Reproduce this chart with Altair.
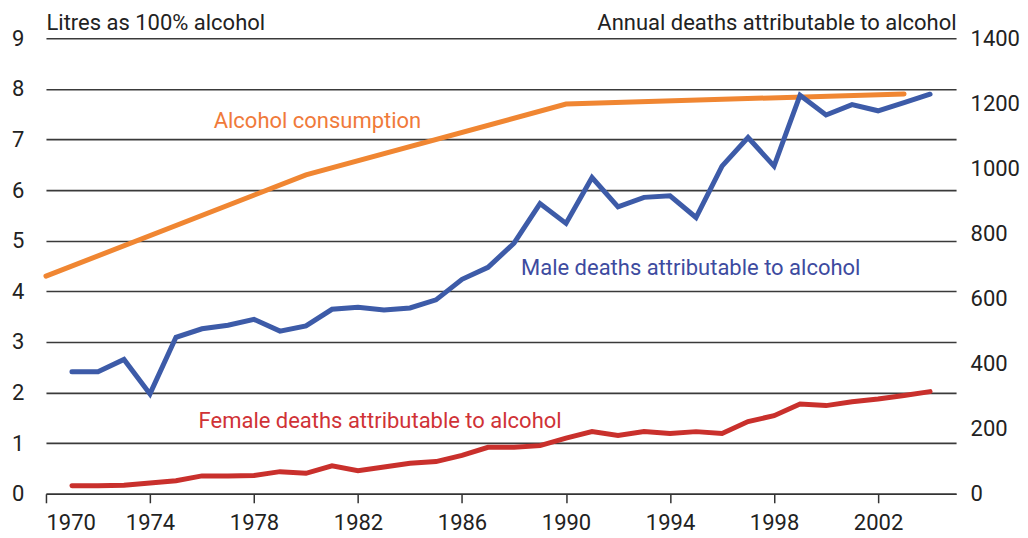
import altair as alt
import pandas as pd

# ---- data ----
years = list(range(1971, 2005))
male_deaths = [375, 375, 413, 307, 481, 507, 518, 536, 500, 516, 567, 573, 565, 571, 596,
               659, 696, 770, 892, 831, 972, 882, 911, 916, 849, 1007, 1095, 1007, 1225,
               1164, 1196, 1177, 1202, 1228]
female_deaths = [25, 25, 26, 33, 40, 55, 55, 56, 68, 63, 86, 71, 82, 94, 99, 118, 143, 143,
                 148, 171, 191, 179, 191, 185, 191, 185, 222, 240, 276, 271, 283, 291, 302, 314]

alc_years = [1970, 1980, 1990, 2003]
alc_litres = [4.3, 6.3, 7.7, 7.9]

x_ticks = [1970, 1974, 1978, 1982, 1986, 1990, 1994, 1998, 2002]
left_ticks = list(range(0, 10))
right_ticks = list(range(0, 1401, 200))

series_names = ["Male deaths attributable to alcohol", "Female deaths attributable to alcohol"]
series_colors = ["#3D5BA8", "#C9302C"]
alc_color = "#F08632"

# label anchors (year, value)
alc_label = pd.DataFrame({"year": [1976.45], "v": [7.22], "t": ["Alcohol consumption"]})
death_labels = pd.DataFrame({
    "year": [1988.27, 1975.87],
    "v": [672, 203],
    "t": series_names,
    "series": series_names,
})

FONT = "Roboto"
FS = 22

deaths = pd.DataFrame({
    "year": years * 2,
    "v": male_deaths + female_deaths,
    "series": [series_names[0]] * len(years) + [series_names[1]] * len(years),
})
alc = pd.DataFrame({"year": alc_years, "v": alc_litres})

x_axis = alt.Axis(values=x_ticks, format="d", tickSize=9, tickColor="#333", tickWidth=1.5,
                  domainColor="#333", domainWidth=1.5, labelPadding=10, grid=False,
                  title=None, labelFontSize=FS, labelColor="#222", labelFont=FONT)
x_scale = alt.Scale(domain=[1970, 2005], nice=False, zero=False)

left_scale = alt.Scale(domain=[0, 9], nice=False)
right_scale = alt.Scale(domain=[0, 1400], nice=False)

left_axis = alt.Axis(values=left_ticks, grid=True, gridColor="#3a3a3a", gridWidth=1.6,
                     ticks=False, domain=False, labelPadding=22, labelFontSize=FS,
                     labelColor="#222", labelFont=FONT,
                     title="Litres as 100% alcohol", titleAngle=0, titleAlign="left",
                     titleBaseline="bottom", titleX=0, titleY=-4, titleFontSize=FS,
                     titleFontWeight="normal", titleFont=FONT, titleColor="#222")
right_axis = alt.Axis(values=right_ticks, format="d", orient="right", grid=False, ticks=False,
                      domain=False, labelPadding=14, labelFontSize=FS, labelColor="#222",
                      labelFont=FONT,
                      title="Annual deaths attributable to alcohol", titleAngle=0,
                      titleAlign="right", titleBaseline="bottom", titleX=0, titleY=-4,
                      titleFontSize=FS, titleFontWeight="normal", titleFont=FONT,
                      titleColor="#222")

alc_line = alt.Chart(alc).mark_line(color=alc_color, strokeWidth=5, strokeCap="round").encode(
    x=alt.X("year:Q", scale=x_scale, axis=x_axis),
    y=alt.Y("v:Q", scale=left_scale, axis=left_axis),
)
alc_text = alt.Chart(alc_label).mark_text(
    color="#F07A3A", fontSize=FS, font=FONT, align="left", baseline="alphabetic"
).encode(
    x=alt.X("year:Q", scale=x_scale, axis=x_axis),
    y=alt.Y("v:Q", scale=left_scale, axis=left_axis),
    text="t:N",
)

left_layer = alt.layer(alc_line, alc_text)

death_lines = alt.Chart(deaths).mark_line(strokeWidth=5, strokeCap="round").encode(
    x=alt.X("year:Q", scale=x_scale, axis=x_axis),
    y=alt.Y("v:Q", scale=right_scale, axis=right_axis),
    color=alt.Color("series:N", scale=alt.Scale(domain=series_names, range=series_colors),
                    legend=None),
)
death_text = alt.Chart(death_labels).mark_text(
    fontSize=FS, font=FONT, align="left", baseline="alphabetic"
).encode(
    x=alt.X("year:Q", scale=x_scale, axis=x_axis),
    y=alt.Y("v:Q", scale=right_scale, axis=right_axis),
    text="t:N",
    color=alt.Color("series:N", scale=alt.Scale(domain=series_names,
                                                range=["#3D4BA0", "#D03236"]), legend=None),
)
right_layer = alt.layer(death_lines, death_text).resolve_scale(color="independent")

chart = alt.layer(left_layer, right_layer).resolve_scale(
    y="independent", color="independent"
).properties(
    width=911, height=456,
    padding={"left": 3, "top": 3, "right": 0, "bottom": 0},
    background="white",
).configure_view(stroke=None)

chart.save("out.html", embed_options={"renderer": "svg", "actions": False})
